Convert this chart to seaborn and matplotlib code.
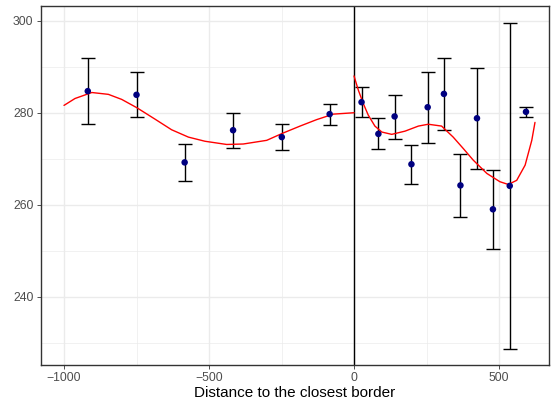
import matplotlib
matplotlib.use("Agg")
import matplotlib.pyplot as plt
import seaborn as sns
import pandas as pd
import numpy as np

# Binned means with confidence intervals
bin_x = [-918, -750, -584, -417, -249, -84, 26, 84, 140, 198, 254, 310, 367, 424, 479, 537, 593]
bin_y = [284.7, 283.9, 269.2, 276.2, 274.7, 279.7, 282.3, 275.4, 279.2, 268.8, 281.2, 284.1, 264.2, 278.8, 259.0, 264.1, 280.2]
ci_low = [277.6, 279.0, 265.2, 272.4, 271.8, 277.4, 279.0, 272.1, 274.3, 264.5, 273.5, 276.2, 257.3, 267.7, 250.4, 228.7, 279.0]
ci_high = [291.8, 288.9, 273.3, 279.9, 277.5, 282.0, 285.5, 278.8, 283.9, 272.9, 288.8, 291.9, 271.1, 289.7, 267.5, 299.5, 281.3]

# Fitted curves (left and right of the border)
left_x = [-1000, -962, -904, -847, -801, -749, -686, -629, -571, -514, -439, -382, -301, -244, -186, -129, -71, 0]
left_y = [281.6, 283.1, 284.4, 284.0, 282.9, 281.1, 278.6, 276.3, 274.7, 273.8, 273.1, 273.2, 274.0, 275.6, 277.1, 278.5, 279.7, 280.0]
right_x = [0, 15, 32, 49, 72, 96, 130, 176, 222, 256, 302, 342, 377, 411, 458, 503, 532, 561, 590, 613, 624]
right_y = [288.0, 284.9, 282.0, 279.5, 277.1, 275.8, 275.3, 276.0, 277.1, 277.5, 277.1, 274.7, 272.2, 269.7, 266.8, 265.0, 264.4, 265.3, 268.6, 274.0, 277.9]

x_label = "Distance to the closest border"
x_ticks = [-1000, -500, 0, 500]
y_ticks = [240, 260, 280, 300]

sns.set_theme(style="white")
plt.rcParams['font.family'] = ['Liberation Sans', 'DejaVu Sans']

fig = plt.figure(figsize=(5.55, 4.05), dpi=100)
ax = fig.add_axes([0.073, 0.0995, 0.916, 0.8855])

# grid
for v in [-1000, -500, 0, 500]:
    ax.axvline(v, color="#EBEBEB", lw=1.0, zorder=0)
for v in [-750, -250, 250]:
    ax.axvline(v, color="#EBEBEB", lw=0.5, zorder=0)
for v in [240, 260, 280, 300]:
    ax.axhline(v, color="#EBEBEB", lw=1.0, zorder=0)
for v in [230, 250, 270, 290]:
    ax.axhline(v, color="#EBEBEB", lw=0.5, zorder=0)

ax.axvline(0, color="black", lw=1.0, zorder=1)

df = pd.DataFrame({"x": bin_x, "y": bin_y, "lo": ci_low, "hi": ci_high})
ax.errorbar(df["x"], df["y"], yerr=[df["y"] - df["lo"], df["hi"] - df["y"]],
            fmt="none", ecolor="black", elinewidth=1.0, capsize=5, capthick=1.0, zorder=2)

sns.lineplot(x=left_x, y=left_y, color="red", lw=1.0, ax=ax, zorder=3, sort=False)
sns.lineplot(x=right_x, y=right_y, color="red", lw=1.0, ax=ax, zorder=3, sort=False)

sns.scatterplot(data=df, x="x", y="y", color="#000080", s=22, edgecolor="none", ax=ax, zorder=4)

ax.set_xlim(-1081, 672)
ax.set_ylim(225.2, 303.2)
ax.set_xticks(x_ticks)
ax.set_yticks(y_ticks)
ax.set_xlabel(x_label, fontsize=11, color="black", labelpad=2)
ax.set_ylabel("")
ax.tick_params(axis="both", which="major", length=3, width=0.6, colors="#333333",
               labelsize=8.8, labelcolor="#4D4D4D", pad=2, bottom=True, left=True)
for s in ax.spines.values():
    s.set_color("#333333")
    s.set_linewidth(1.0)

fig.savefig("out.png", dpi=100)
